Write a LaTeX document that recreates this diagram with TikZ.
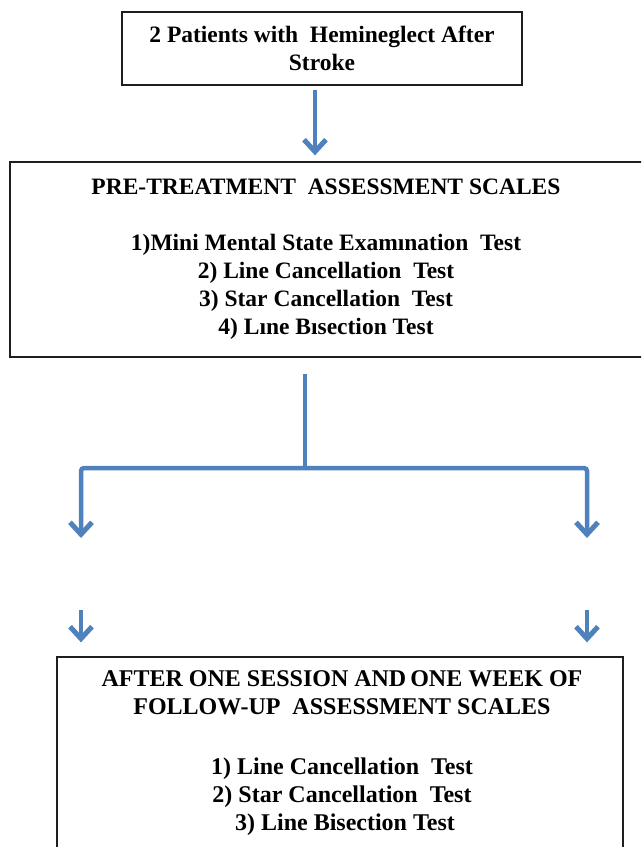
\documentclass[tikz,border=0pt]{standalone}
\usepackage{fontspec}
\setmainfont{Liberation Serif}
\usetikzlibrary{arrows.meta,calc}
\definecolor{arrowblue}{RGB}{79,129,189}
\definecolor{boxline}{RGB}{30,30,30}
\tikzset{
  flowbox/.style={draw=boxline, line width=1.3pt, fill=white, inner sep=0pt, align=center,
    font=\bfseries\fontsize{23.5}{28}\selectfont},
  boxtext/.style={inner sep=0pt, align=center, font=\bfseries\fontsize{23.5}{28}\selectfont},
  flowhead/.style={-{Straight Barb[length=12pt,width=22pt,line width=5pt]}},
  flowarrow/.style={draw=arrowblue, line width=4.5pt, flowhead},
  flowline/.style={draw=arrowblue, line width=4.5pt, rounded corners=3pt},
}
\begin{document}
\begin{tikzpicture}[x=1pt,y=-1pt]
\useasboundingbox (0,0) rectangle (641,847);
\clip (0,0) rectangle (641,847);
\fill[white] (0,0) rectangle (641,847);
% boxes
\node[flowbox, minimum width=400, minimum height=73] (top) at (322,48.5)
  {2 Patients with\ \ Hemineglect After\\Stroke};
\node[flowbox, minimum width=650, minimum height=195] (pre) at (335,259.5) {};
\node[boxtext] (pretext) at (326,259.5)
  {PRE-TREATMENT\ \ ASSESSMENT SCALES\\[28pt]
   1)Mini Mental State Examınation\ \ Test\\
   2) Line Cancellation\ \ Test\\
   3) Star Cancellation\ \ Test\\
   4) Lıne Bısection Test};
\node[flowbox, minimum width=566, minimum height=240] (post) at (340,777) {};
\node[boxtext, anchor=north, font=\bfseries\fontsize{24}{28}\selectfont] (posttext) at (342,670)
  {AFTER ONE SESSION AND\,ONE WEEK OF\\
   FOLLOW-UP\ \ ASSESSMENT SCALES\\[32pt]
   1) Line Cancellation\ \ Test\\
   2) Star Cancellation\ \ Test\\
   \ 3) Line Bisection Test};
% coordinates
\coordinate (a1) at (315,89);
\coordinate (j) at (305,468);
\coordinate (la) at (81,538);
\coordinate (ra) at (587,538);
\coordinate (lb) at (81,610);
\coordinate (rb) at (587,610);
% connectors
\draw[flowarrow] (top.south -| a1) ++(0,4) -- ($(pre.north -| a1)+(0,-6)$);
\draw[flowline] ($(pre.south -| j)+(0,16)$) -- (j);
\draw[flowline, flowhead] (j) -| (la);
\draw[flowline, flowhead] (j) -| (ra);
\draw[flowarrow] (lb) -- ($(post.north -| lb)+(0,-14)$);
\draw[flowarrow] (rb) -- ($(post.north -| rb)+(0,-14)$);
\end{tikzpicture}
\end{document}
